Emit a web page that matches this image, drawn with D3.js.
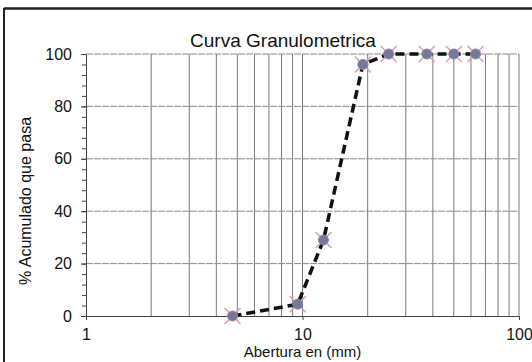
<!DOCTYPE html>
<html>
<head>
<meta charset="utf-8">
<script src="https://cdn.jsdelivr.net/npm/d3@7"></script>
<style>
  body { margin: 0; background: #fff; }
  text { font-family: Arial, "Liberation Sans", sans-serif; fill: #111; }
</style>
</head>
<body>
<div id="chart"></div>
<script>
// Data
const aberturas = [4.75, 9.5, 12.5, 19, 25, 37.5, 50, 63];
const pasa = [0, 4.5, 29, 96, 100, 100, 100, 100];
const yTicks = [0, 20, 40, 60, 80, 100];
const xTicks = [1, 10, 100];

const width = 532,
    height = 362,
    margin = {top: 54, right: 13, bottom: 46, left: 86};

const innerWidth = width - margin.left - margin.right;
const innerHeight = height - margin.top - margin.bottom;

const svg = d3.select("#chart")
  .append("svg")
  .attr("width", width)
  .attr("height", height);

// Outer frame (top + left edges visible)
svg.append("line").attr("x1", 4).attr("x2", width).attr("y1", 8.5).attr("y2", 8.5)
  .attr("stroke", "#222").attr("stroke-width", 2.5);
svg.append("line").attr("x1", 4).attr("x2", 4).attr("y1", 8).attr("y2", height)
  .attr("stroke", "#222").attr("stroke-width", 2);

const g = svg.append("g")
  .attr("transform", `translate(${margin.left}, ${margin.top})`);

// Scales
const x = d3.scaleLog()
  .domain([1, 100])
  .range([0, innerWidth]);

const y = d3.scaleLinear()
  .domain([0, 100])
  .range([innerHeight, 0]);

// Vertical grid at every log tick
const logTicks = x.ticks().filter(t => t > 1 && t <= 100);
g.selectAll(".vgrid")
  .data(logTicks)
  .enter()
  .append("line")
  .attr("class", "vgrid")
  .attr("x1", d => x(d)).attr("x2", d => x(d))
  .attr("y1", 0).attr("y2", innerHeight)
  .attr("stroke", "#7a7a7a")
  .attr("stroke-width", 1);

// Horizontal grid
g.selectAll(".hgrid")
  .data(yTicks.filter(t => t > 0))
  .enter()
  .append("line")
  .attr("class", "hgrid")
  .attr("x1", 0).attr("x2", innerWidth)
  .attr("y1", d => y(d)).attr("y2", d => y(d))
  .attr("stroke", "#8a8a8a")
  .attr("stroke-width", 1)
  .attr("stroke-dasharray", "7,1");

// Y axis with minor ticks
g.append("g")
  .call(d3.axisLeft(y).tickValues(d3.range(0, 101, 4)).tickSize(4).tickFormat(""))
  .call(a => a.select(".domain").remove())
  .selectAll("line").attr("stroke", "#444");

const yAxis = g.append("g")
  .call(d3.axisLeft(y).tickValues(yTicks).tickSize(5).tickPadding(9));
yAxis.select(".domain").attr("stroke", "#444");
yAxis.selectAll("line").attr("stroke", "#444");
yAxis.selectAll("text").style("font-size", "16px").attr("fill", "#111");

// X axis
const xAxis = g.append("g")
  .attr("transform", `translate(0,${innerHeight})`)
  .call(d3.axisBottom(x).tickValues(xTicks).tickFormat(d3.format("d")).tickSize(4).tickPadding(9));
xAxis.select(".domain").attr("stroke", "#444");
xAxis.selectAll("line").attr("stroke", "#444");
xAxis.selectAll("text").style("font-size", "16px").attr("fill", "#111");

// Title
svg.append("text")
  .attr("x", 283)
  .attr("y", 47)
  .attr("text-anchor", "middle")
  .style("font-size", "19px")
  .text("Curva Granulometrica");

// X label
svg.append("text")
  .attr("x", margin.left + innerWidth / 2)
  .attr("y", 357)
  .attr("text-anchor", "middle")
  .style("font-size", "15px")
  .text("Abertura en (mm)");

// Y label
svg.append("text")
  .attr("transform", "rotate(-90)")
  .attr("x", -(margin.top + 147))
  .attr("y", 31)
  .attr("text-anchor", "middle")
  .style("font-size", "16px")
  .text("% Acumulado que pasa");

const data = aberturas.map((a, i) => ({a: a, p: pasa[i]}));

// Curve
const line = d3.line()
  .x(d => x(d.a))
  .y(d => y(d.p));

g.append("path")
  .datum(data)
  .attr("d", line)
  .attr("fill", "none")
  .attr("stroke", "#111")
  .attr("stroke-width", 3.5)
  .attr("stroke-dasharray", "9,5");

// Markers: pink cross + purple dot
const markers = g.selectAll(".marker")
  .data(data)
  .enter()
  .append("g")
  .attr("class", "marker")
  .attr("transform", d => `translate(${x(d.a)},${y(d.p)})`);

markers.append("path")
  .attr("d", "M-8,-8L8,8M-8,8L8,-8")
  .attr("stroke", "#e89aae")
  .attr("stroke-width", 1.6);

markers.append("circle")
  .attr("r", 5)
  .attr("fill", "#77779a")
  .attr("stroke", "#8888aa")
  .attr("stroke-width", 1);
</script>
</body>
</html>
